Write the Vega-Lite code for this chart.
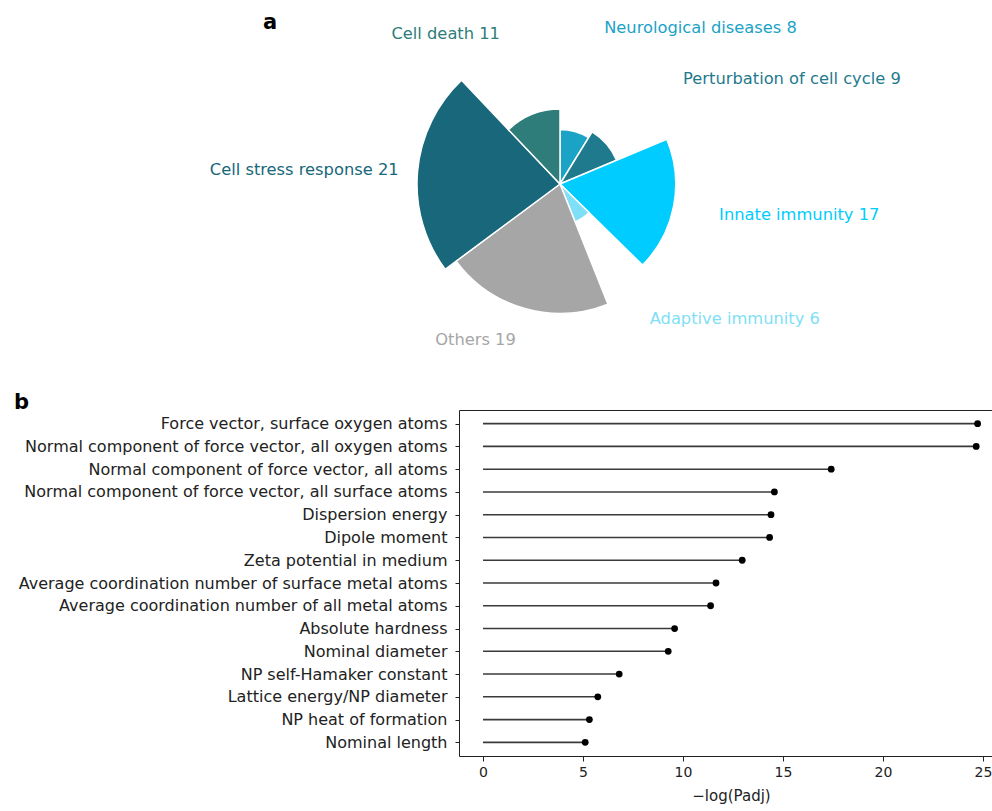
{
  "$schema": "https://vega.github.io/schema/vega-lite/v6.json",
  "background": "white",
  "autosize": {"type": "pad"},
  "padding": {"left": 13, "top": 12, "right": 0, "bottom": 0},
  "bounds": "flush",
  "spacing": 56,
  "config": {
    "font": "DejaVu Sans",
    "title": {"font": "DejaVu Sans", "color": "#000000"},
    "axis": {"labelFont": "DejaVu Sans", "titleFont": "DejaVu Sans"}
  },
  "vconcat": [
    {
      "width": 202,
      "height": 340,
      "view": {"stroke": null},
      "title": {"text": "a", "anchor": "start", "frame": "group", "fontSize": 21, "fontWeight": "bold", "dx": -196, "offset": -36, "baseline": "alphabetic"},
      "data": {"values": [
        {"idx": 1, "category": "Neurological diseases", "count": 8, "label": "Neurological diseases 8"},
        {"idx": 2, "category": "Perturbation of cell cycle", "count": 9, "label": "Perturbation of cell cycle 9"},
        {"idx": 3, "category": "Innate immunity", "count": 17, "label": "Innate immunity 17"},
        {"idx": 4, "category": "Adaptive immunity", "count": 6, "label": "Adaptive immunity 6"},
        {"idx": 5, "category": "Others", "count": 19, "label": "Others 19"},
        {"idx": 6, "category": "Cell stress response", "count": 21, "label": "Cell stress response 21"},
        {"idx": 7, "category": "Cell death", "count": 11, "label": "Cell death 11"}
      ]},
      "encoding": {
        "theta": {"field": "count", "type": "quantitative", "stack": true},
        "order": {"field": "idx", "type": "quantitative"},
        "color": {
          "field": "category", "type": "nominal", "legend": null,
          "scale": {
            "domain": ["Neurological diseases", "Perturbation of cell cycle", "Innate immunity", "Adaptive immunity", "Others", "Cell stress response", "Cell death"],
            "range": ["#1ba3c6", "#1f7a8e", "#00ccff", "#7fdff6", "#a6a6a6", "#18677a", "#2e7d7a"]
          }
        }
      },
      "layer": [
        {
          "mark": {"type": "arc", "stroke": "#ffffff", "strokeWidth": 1.5},
          "encoding": {
            "radius": {"field": "count", "type": "quantitative", "scale": {"type": "linear", "zero": true, "domain": [0, 21], "range": [0, 143]}}
          }
        },
        {
          "mark": {"type": "text", "radius": 162, "fontSize": 16.3, "baseline": "middle",
                   "align": {"expr": "datum.count_start + datum.count_end < 91 ? 'left' : 'right'"}},
          "encoding": {
            "text": {"field": "label", "type": "nominal"}
          }
        }
      ]
    },
    {
      "width": 544,
      "height": 346,
      "view": {"stroke": "#222222", "strokeWidth": 1},
      "title": {"text": "b", "anchor": "start", "frame": "group", "fontSize": 21, "fontWeight": "bold", "dx": -445, "offset": -20, "baseline": "alphabetic"},
      "data": {"values": [
        {"feature": "Force vector, surface oxygen atoms", "value": 24.73},
        {"feature": "Normal component of force vector, all oxygen atoms", "value": 24.66},
        {"feature": "Normal component of force vector, all atoms", "value": 17.41},
        {"feature": "Normal component of force vector, all surface atoms", "value": 14.57},
        {"feature": "Dispersion energy", "value": 14.40},
        {"feature": "Dipole moment", "value": 14.33},
        {"feature": "Zeta potential in medium", "value": 12.96},
        {"feature": "Average coordination number of surface metal atoms", "value": 11.65},
        {"feature": "Average coordination number of all metal atoms", "value": 11.38},
        {"feature": "Absolute hardness", "value": 9.58},
        {"feature": "Nominal diameter", "value": 9.26},
        {"feature": "NP self-Hamaker constant", "value": 6.81},
        {"feature": "Lattice energy/NP diameter", "value": 5.74},
        {"feature": "NP heat of formation", "value": 5.32},
        {"feature": "Nominal length", "value": 5.11}
      ]},
      "encoding": {
        "y": {
          "field": "feature", "type": "nominal", "sort": null,
          "scale": {"type": "point", "padding": 0.6},
          "axis": {"title": null, "labelFontSize": 16, "labelColor": "#222222", "tickSize": 4, "tickColor": "#222222", "labelPadding": 8, "domain": false, "labelLimit": 600}
        },
        "x": {
          "field": "value", "type": "quantitative",
          "scale": {"domain": [-1.2, 26], "nice": false, "zero": false},
          "axis": {"title": "−log(Padj)", "values": [0, 5, 10, 15, 20, 25], "grid": false, "domain": false, "tickSize": 5, "tickColor": "#222222", "labelFontSize": 14, "labelColor": "#222222", "titleFontSize": 15, "titleFontWeight": "normal", "titleColor": "#222222", "labelPadding": 4, "titlePadding": 9}
        }
      },
      "layer": [
        {
          "mark": {"type": "rule", "color": "#3a3a3a", "strokeWidth": 1.6},
          "encoding": {
            "x2": {"datum": 0}
          }
        },
        {
          "mark": {"type": "point", "filled": true, "color": "#000000", "size": 46, "opacity": 1}
        }
      ]
    }
  ]
}
